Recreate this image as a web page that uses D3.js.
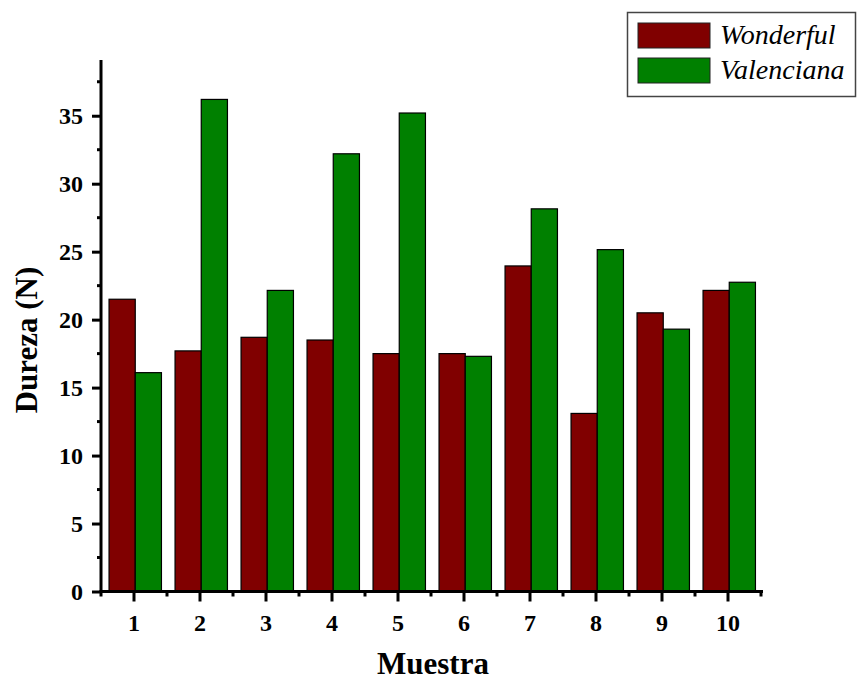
<!DOCTYPE html>
<html>
<head>
<meta charset="utf-8">
<title>Dureza</title>
<script src="https://cdn.jsdelivr.net/npm/d3@7"></script>
<style>
    body { margin: 0; background: #fff; }
    svg text { font-family: "Liberation Serif", "Times New Roman", serif; }
</style>
</head>
<body>
<svg id="chart" width="858" height="682"></svg>
<script>
// data
var muestras = ["1", "2", "3", "4", "5", "6", "7", "8", "9", "10"];
var series = ["Wonderful", "Valenciana"];
var wonderful = [21.5, 17.7, 18.7, 18.5, 17.5, 17.5, 23.95, 13.1, 20.5, 22.15];
var valenciana = [16.1, 36.2, 22.15, 32.2, 35.2, 17.3, 28.15, 25.15, 19.3, 22.75];
var yTicks = [0, 5, 10, 15, 20, 25, 30, 35];
var colors = ["#800000", "#008000"];

var svg = d3.select("#chart");

var plotLeft = 101, plotRight = 761, plotTop = 60, plotBottom = 591.5;

var x = d3.scaleBand().domain(muestras).range([plotLeft, plotRight]).padding(0);
var x1 = d3.scaleBand().domain(series).range([1.5, x.bandwidth() + 1])
    .paddingInner(0).paddingOuter(0.25);
var y = d3.scaleLinear().domain([0, 39.1]).range([plotBottom, plotTop]);

var rows = muestras.map(function(m, i) {
    return { m: m, vals: [wonderful[i], valenciana[i]] };
});

// bars
var g = svg.append("g").selectAll("g")
    .data(rows)
    .enter().append("g")
    .attr("transform", function(d) { return "translate(" + x(d.m) + ",0)"; });

g.selectAll("rect")
    .data(function(d) { return d.vals.map(function(v, j) { return { s: series[j], v: v, c: colors[j] }; }); })
    .enter().append("rect")
    .attr("x", function(d) { return x1(d.s); })
    .attr("y", function(d) { return y(d.v); })
    .attr("width", x1.bandwidth())
    .attr("height", function(d) { return plotBottom - y(d.v); })
    .attr("fill", function(d) { return d.c; })
    .attr("stroke", "#000")
    .attr("stroke-width", 1.2);

// y axis
var yAxis = svg.append("g")
    .attr("transform", "translate(" + plotLeft + ",0)")
    .call(d3.axisLeft(y).tickValues(yTicks).tickSize(9).tickSizeOuter(0).tickPadding(9));
yAxis.select(".domain").attr("stroke-width", 3).attr("d", "M0," + (plotBottom + 1) + "V" + plotTop);
yAxis.selectAll(".tick line").attr("stroke-width", 3);
yAxis.selectAll(".tick text")
    .attr("font-size", 24).attr("font-weight", "bold")
    .attr("font-family", "Liberation Serif, serif").attr("fill", "#000");

var yMinor = d3.range(2.5, 39, 5);
svg.append("g").selectAll("line")
    .data(yMinor)
    .enter().append("line")
    .attr("x1", plotLeft - 4).attr("x2", plotLeft)
    .attr("y1", function(d) { return y(d); }).attr("y2", function(d) { return y(d); })
    .attr("stroke", "#000").attr("stroke-width", 3);

// x axis
var xAxis = svg.append("g")
    .attr("transform", "translate(0," + plotBottom + ")")
    .call(d3.axisBottom(x).tickSize(10).tickSizeOuter(0).tickPadding(12));
xAxis.select(".domain").attr("stroke-width", 3).attr("d", "M" + (plotLeft - 1.5) + ",0H" + (plotRight + 2));
xAxis.selectAll(".tick line").attr("stroke-width", 3);
xAxis.selectAll(".tick text")
    .attr("font-size", 24).attr("font-weight", "bold")
    .attr("font-family", "Liberation Serif, serif").attr("fill", "#000");

var xMinor = muestras.map(function(m) { return x(m); }).concat([plotRight]);
svg.append("g").selectAll("line")
    .data(xMinor)
    .enter().append("line")
    .attr("x1", function(d) { return d; }).attr("x2", function(d) { return d; })
    .attr("y1", plotBottom).attr("y2", plotBottom + 5)
    .attr("stroke", "#000").attr("stroke-width", 3);

// axis titles
svg.append("text")
    .attr("x", 433).attr("y", 674)
    .attr("text-anchor", "middle")
    .attr("font-size", 31).attr("font-weight", "bold")
    .text("Muestra");

svg.append("text")
    .attr("transform", "translate(37,340) rotate(-90)")
    .attr("text-anchor", "middle")
    .attr("font-size", 31).attr("font-weight", "bold")
    .text("Dureza (N)");

// legend
var legend = svg.append("g");
legend.append("rect")
    .attr("x", 627.5).attr("y", 12.5).attr("width", 228).attr("height", 84)
    .attr("fill", "#fff").attr("stroke", "#444").attr("stroke-width", 1.5);
var li = legend.selectAll("g.item")
    .data(series)
    .enter().append("g")
    .attr("transform", function(d, i) { return "translate(0," + (i * 35) + ")"; });
li.append("rect")
    .attr("x", 638).attr("y", 23).attr("width", 72).attr("height", 25)
    .attr("fill", function(d, i) { return colors[i]; })
    .attr("stroke", "#222").attr("stroke-width", 1);
li.append("text")
    .attr("x", 720).attr("y", 44)
    .attr("font-size", 28).attr("font-style", "italic")
    .text(function(d) { return d; });
</script>
</body>
</html>
